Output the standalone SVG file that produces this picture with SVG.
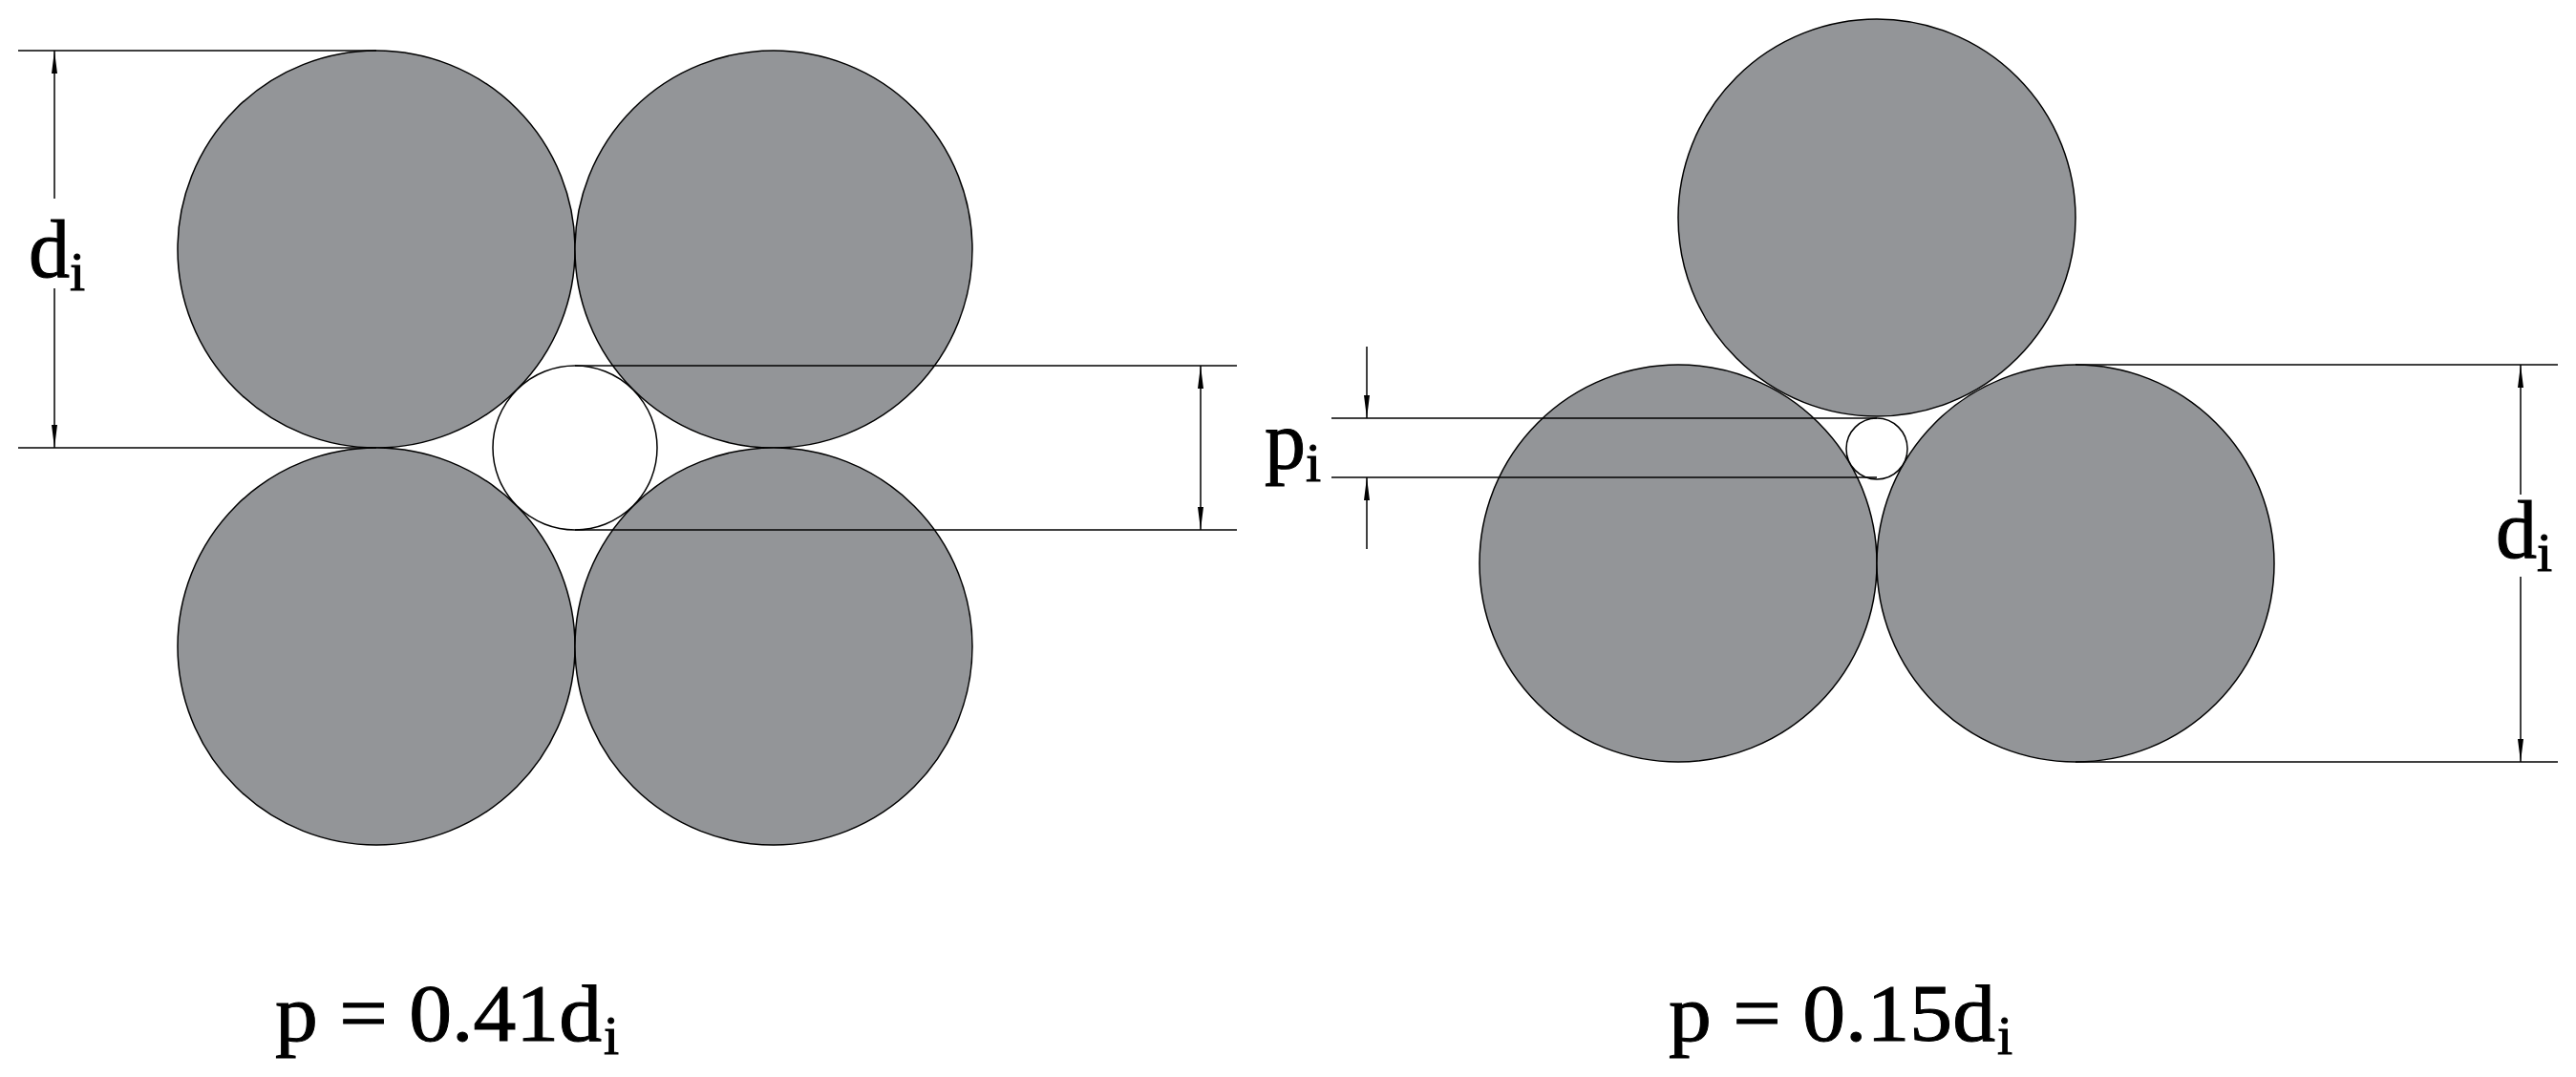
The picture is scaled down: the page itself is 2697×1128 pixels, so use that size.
<svg xmlns="http://www.w3.org/2000/svg" width="2697" height="1128" viewBox="0 0 2697 1128">
<style>
.c{fill:#939598;stroke:#000;stroke-width:1.5}
.h{fill:#fff;stroke:#000;stroke-width:1.5}
.l{stroke:#000;stroke-width:1.5;fill:none}
.t{font-family:"Liberation Serif",serif;fill:#000;stroke:#000;stroke-width:1}
</style>
<defs>
<marker id="a" markerWidth="24" markerHeight="10" refX="24" refY="5" orient="auto" markerUnits="userSpaceOnUse"><path d="M0,2 L24,5 L0,8 Z" fill="#000"/></marker>
</defs>
<g id="left">
<circle class="c" cx="394" cy="261" r="208"/>
<circle class="c" cx="810" cy="261" r="208"/>
<circle class="c" cx="394" cy="677" r="208"/>
<circle class="c" cx="810" cy="677" r="208"/>
<circle class="h" cx="602" cy="469" r="86"/>
</g>
<g id="right">
<circle class="c" cx="1965" cy="228" r="208"/>
<circle class="c" cx="1757" cy="590" r="208"/>
<circle class="c" cx="2173" cy="590" r="208"/>
<circle class="h" cx="1965" cy="470" r="32"/>
</g>
<g id="connectors">
<line class="l" x1="19" y1="53" x2="394" y2="53"/>
<line class="l" x1="19" y1="469" x2="394" y2="469"/>
<line class="l" x1="57" y1="208" x2="57" y2="53" marker-end="url(#a)"/>
<line class="l" x1="57" y1="302" x2="57" y2="469" marker-end="url(#a)"/>
<line class="l" x1="602" y1="383" x2="1295" y2="383"/>
<line class="l" x1="602" y1="555" x2="1295" y2="555"/>
<line class="l" x1="1257" y1="469" x2="1257" y2="383" marker-end="url(#a)"/>
<line class="l" x1="1257" y1="469" x2="1257" y2="555" marker-end="url(#a)"/>
<line class="l" x1="1394" y1="438" x2="1965" y2="438"/>
<line class="l" x1="1394" y1="500" x2="1965" y2="500"/>
<line class="l" x1="1431" y1="363" x2="1431" y2="438" marker-end="url(#a)"/>
<line class="l" x1="1431" y1="575" x2="1431" y2="500" marker-end="url(#a)"/>
<line class="l" x1="2173" y1="382" x2="2678" y2="382"/>
<line class="l" x1="2173" y1="798" x2="2678" y2="798"/>
<line class="l" x1="2639" y1="518" x2="2639" y2="382" marker-end="url(#a)"/>
<line class="l" x1="2639" y1="604" x2="2639" y2="798" marker-end="url(#a)"/>
</g>
<g id="labels">
<text class="t" x="30" y="290" font-size="86">d<tspan font-size="58" dy="14">i</tspan></text>
<text class="t" x="1324" y="490" font-size="86">p<tspan font-size="58" dy="14">i</tspan></text>
<text class="t" x="2613" y="584" font-size="86">d<tspan font-size="58" dy="14">i</tspan></text>
<text class="t" x="288" y="1090" font-size="84" textLength="342" lengthAdjust="spacingAndGlyphs">p = 0.41d</text>
<text class="t" x="632" y="1104" font-size="58">i</text>
<text class="t" x="1747" y="1090" font-size="84" textLength="342" lengthAdjust="spacingAndGlyphs">p = 0.15d</text>
<text class="t" x="2091" y="1104" font-size="58">i</text>
</g>
</svg>
